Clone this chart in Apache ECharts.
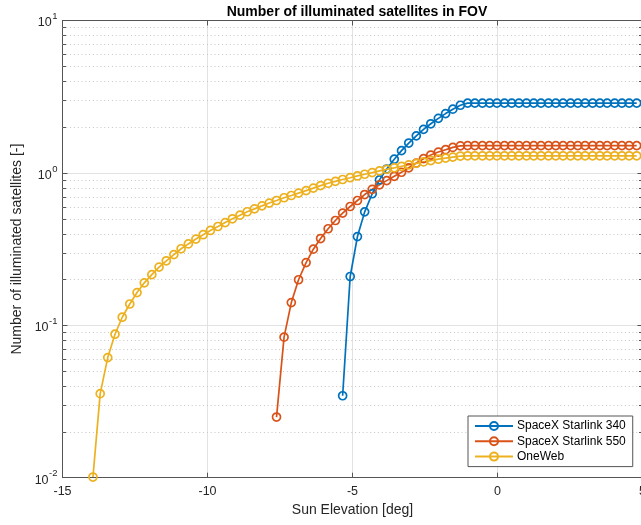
<!DOCTYPE html>
<html>
<head>
<meta charset="utf-8">
<script src="https://cdn.jsdelivr.net/npm/echarts@6/dist/echarts.min.js"></script>
<style>
  html, body { margin: 0; padding: 0; background: #ffffff; }
  #chart { width: 641px; height: 525px; }
</style>
</head>
<body>
<div id="chart"></div>
<script>
// Sun elevation samples [deg], shared by all constellations (each series ends at the last sample)
const sunElevation = [
  -13.95, -13.70, -13.44, -13.19, -12.94, -12.68, -12.43, -12.18, -11.92, -11.67,
  -11.42, -11.16, -10.91, -10.66, -10.40, -10.15, -9.90, -9.64, -9.39, -9.14,
  -8.88, -8.63, -8.38, -8.12, -7.87, -7.62, -7.36, -7.11, -6.86, -6.60,
  -6.35, -6.10, -5.84, -5.59, -5.34, -5.08, -4.83, -4.58, -4.32, -4.07,
  -3.82, -3.56, -3.31, -3.06, -2.80, -2.55, -2.30, -2.04, -1.79, -1.54,
  -1.28, -1.03, -0.78, -0.52, -0.27, -0.02, 0.24, 0.49, 0.74, 1.00,
  1.25, 1.50, 1.76, 2.01, 2.26, 2.52, 2.77, 3.02, 3.28, 3.53,
  3.78, 4.04, 4.29, 4.54, 4.80
];

// Number of illuminated satellites in the field of view
const starlink340 = [
  0.0345, 0.209, 0.382, 0.555, 0.73, 0.90, 1.06, 1.23, 1.40, 1.57,
  1.75, 1.93, 2.10, 2.28, 2.45, 2.62, 2.78, 2.87, 2.87, 2.87,
  2.87, 2.87, 2.87, 2.87, 2.87, 2.87, 2.87, 2.87, 2.87, 2.87,
  2.87, 2.87, 2.87, 2.87, 2.87, 2.87, 2.87, 2.87, 2.87, 2.87,
  2.87
];
const starlink550 = [
  0.025, 0.0836, 0.141, 0.199, 0.258, 0.316, 0.371, 0.430, 0.487, 0.545,
  0.602, 0.659, 0.721, 0.78, 0.835, 0.89, 0.95, 1.01, 1.08, 1.16,
  1.24, 1.31, 1.37, 1.42, 1.47, 1.505, 1.51, 1.51, 1.51, 1.51,
  1.51, 1.51, 1.51, 1.51, 1.51, 1.51, 1.51, 1.51, 1.51, 1.51,
  1.51, 1.51, 1.51, 1.51, 1.51, 1.51, 1.51, 1.51, 1.51, 1.51
];
const oneWeb = [
  0.0101, 0.0356, 0.0614, 0.0874, 0.113, 0.138, 0.164, 0.190, 0.215, 0.241,
  0.265, 0.291, 0.318, 0.342, 0.368, 0.393, 0.419, 0.445, 0.472, 0.500,
  0.528, 0.556, 0.581, 0.608, 0.634, 0.659, 0.687, 0.711, 0.737, 0.765,
  0.795, 0.825, 0.855, 0.88, 0.905, 0.93, 0.955, 0.98, 1.005, 1.03,
  1.055, 1.08, 1.105, 1.13, 1.155, 1.18, 1.205, 1.23, 1.25, 1.27,
  1.29, 1.295, 1.295, 1.295, 1.295, 1.295, 1.295, 1.295, 1.295, 1.295,
  1.295, 1.295, 1.295, 1.295, 1.295, 1.295, 1.295, 1.295, 1.295, 1.295,
  1.295, 1.295, 1.295, 1.295, 1.295
];

const seriesNames = ['SpaceX Starlink 340', 'SpaceX Starlink 550', 'OneWeb'];
const seriesColors = ['#0072BD', '#D95319', '#EDB120'];

// Axis settings
const xTicks = [-15, -10, -5, 0, 5];
const yMin = 0.01, yMax = 10;
// Minor log-decade positions (dotted grid + small ticks)
const yMinorValues = [
  0.02, 0.03, 0.04, 0.05, 0.06, 0.07, 0.08, 0.09,
  0.2, 0.3, 0.4, 0.5, 0.6, 0.7, 0.8, 0.9,
  2, 3, 4, 5, 6, 7, 8, 9
];

const FONT = '"Liberation Sans", Helvetica, Arial, sans-serif';
const AXIS_COLOR = '#555555';
const GRID_COLOR = '#e2e2e2';
const xMin = xTicks[0], xMax = xTicks[xTicks.length - 1];

function pairUp(values) {
  const offset = sunElevation.length - values.length;
  return values.map((v, i) => [sunElevation[offset + i], v]);
}

const chart = echarts.init(document.getElementById('chart'), null, { renderer: 'canvas' });

const lineSeries = [starlink340, starlink550, oneWeb].map((vals, k) => ({
  name: seriesNames[k],
  type: 'line',
  xAxisIndex: 0,
  yAxisIndex: 0,
  data: pairUp(vals),
  symbol: 'circle',
  symbolSize: 8,
  clip: false,
  z: 3,
  lineStyle: { color: seriesColors[k], width: 1.7 },
  itemStyle: { color: 'rgba(255,255,255,0)', borderColor: seriesColors[k], borderWidth: 1.7 },
  emphasis: { disabled: true },
  animation: false
}));

// Dotted minor grid with small inside ticks on both vertical edges
const minorGrid = {
  type: 'custom',
  xAxisIndex: 0,
  yAxisIndex: 0,
  silent: true,
  z: 1,
  data: yMinorValues.map(v => [xMin, v]),
  renderItem: function (params, api) {
    const v = api.value(1);
    const p1 = api.coord([xMin, v]);
    const p2 = api.coord([xMax, v]);
    const y = Math.round(p1[1]) + 0.5;
    return {
      type: 'group',
      children: [
        { type: 'line', shape: { x1: p1[0], y1: y, x2: p2[0], y2: y },
          style: { stroke: '#c6c6c6', lineWidth: 1, lineDash: [1, 2.8] } },
        { type: 'line', shape: { x1: p1[0], y1: y, x2: p1[0] + 3.5, y2: y },
          style: { stroke: AXIS_COLOR, lineWidth: 1 } },
        { type: 'line', shape: { x1: p2[0] - 3.5, y1: y, x2: p2[0], y2: y },
          style: { stroke: AXIS_COLOR, lineWidth: 1 } }
      ]
    };
  },
  animation: false
};

function yLabel(value) {
  const e = Math.round(Math.log10(value));
  return '{b|10}{s|' + e + '}';
}

const option = {
  backgroundColor: '#ffffff',
  animation: false,
  title: {
    text: 'Number of illuminated satellites in FOV',
    left: 352,
    textAlign: 'center',
    top: 0,
    textStyle: { fontFamily: FONT, fontSize: 14, fontWeight: 'bold', color: '#000000' }
  },
  legend: {
    data: seriesNames,
    orient: 'vertical',
    left: 468,
    top: 416,
    itemWidth: 38,
    itemHeight: 10,
    itemGap: 3.3,
    padding: [4, 7, 4, 6],
    backgroundColor: '#ffffff',
    borderColor: '#555555',
    borderWidth: 1,
    borderRadius: 0,
    selectedMode: false,
    textStyle: { fontFamily: FONT, fontSize: 12, color: '#000000', padding: [0, 0, 0, -1] }
  },
  grid: {
    left: 62.5, top: 20.5, width: 580, height: 457.2,
    containLabel: false, outerBoundsMode: 'none'
  },
  xAxis: [
    {
      type: 'value', position: 'bottom', min: xMin, max: xMax, interval: 5,
      name: 'Sun Elevation [deg]', nameLocation: 'middle', nameGap: 25,
      nameTextStyle: { fontFamily: FONT, fontSize: 14, color: '#262626' },
      axisLine: { show: true, onZero: false, lineStyle: { color: AXIS_COLOR, width: 1 } },
      axisTick: { show: true, inside: true, length: 5, lineStyle: { color: AXIS_COLOR } },
      axisLabel: { margin: 7, fontFamily: FONT, fontSize: 12.5, color: '#262626',
        formatter: v => String(v) },
      splitLine: { show: true, lineStyle: { color: GRID_COLOR, width: 1 } }
    },
    {
      type: 'value', position: 'top', min: xMin, max: xMax, interval: 5,
      axisLine: { show: true, onZero: false, lineStyle: { color: AXIS_COLOR, width: 1 } },
      axisTick: { show: true, inside: true, length: 5, lineStyle: { color: AXIS_COLOR } },
      axisLabel: { show: false },
      splitLine: { show: false }
    }
  ],
  yAxis: [
    {
      type: 'log', logBase: 10, position: 'left', min: yMin, max: yMax,
      name: 'Number of illuminated satellites [-]', nameLocation: 'middle', nameGap: 31,
      nameRotate: 90,
      nameTextStyle: { fontFamily: FONT, fontSize: 14, color: '#262626' },
      axisLine: { show: true, onZero: false, lineStyle: { color: AXIS_COLOR, width: 1 } },
      axisTick: { show: true, inside: true, length: 5, lineStyle: { color: AXIS_COLOR } },
      axisLabel: {
        margin: 5, formatter: yLabel,
        rich: {
          b: { fontFamily: FONT, fontSize: 12.5, color: '#262626', verticalAlign: 'bottom', lineHeight: 18 },
          s: { fontFamily: FONT, fontSize: 9.5, color: '#262626', verticalAlign: 'top', lineHeight: 18, padding: [0, 0, 0, 0.5] }
        }
      },
      splitLine: { show: true, lineStyle: { color: GRID_COLOR, width: 1 } }
    },
    {
      type: 'log', logBase: 10, position: 'right', min: yMin, max: yMax,
      axisLine: { show: true, onZero: false, lineStyle: { color: AXIS_COLOR, width: 1 } },
      axisTick: { show: true, inside: true, length: 5, lineStyle: { color: AXIS_COLOR } },
      axisLabel: { show: false },
      splitLine: { show: false }
    }
  ],
  series: [minorGrid].concat(lineSeries)
};

chart.setOption(option);
</script>
</body>
</html>
